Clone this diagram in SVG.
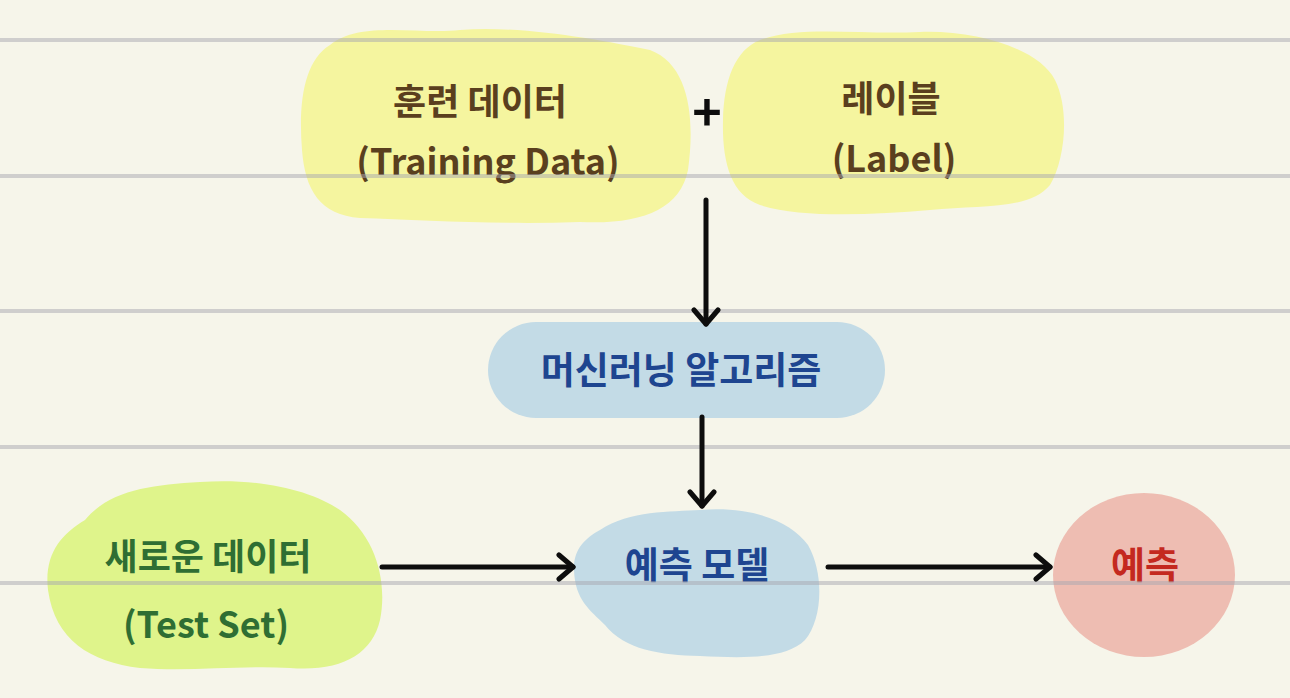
<svg xmlns="http://www.w3.org/2000/svg" width="1290" height="698" viewBox="0 0 1290 698">
<defs>
<style>
.rule{stroke:#a8a8b0;stroke-opacity:0.5;stroke-width:4}
.conn{stroke:#0d0d0d;stroke-width:5;stroke-linecap:round;fill:none}
.t{font-family:"Noto Sans CJK KR","Noto Sans",sans-serif;font-weight:700;text-anchor:middle}
.brown{fill:#5a3f1e}
.blue{fill:#1e4590}
.green{fill:#2f6e33}
.red{fill:#c4291f}
</style>
<marker id="arr" viewBox="0 0 20 30" refX="17" refY="15" markerWidth="20" markerHeight="30" markerUnits="userSpaceOnUse" orient="auto">
<path d="M3,3 L17,15 L3,27" fill="none" stroke="#0d0d0d" stroke-width="5" stroke-linecap="round" stroke-linejoin="round"/>
</marker>
</defs>
<rect width="1290" height="698" fill="#f6f5ea"/>
<g id="training">
<path d="M330,45 C360,20 420,35 460,30 C520,25 600,40 650,50 C690,65 695,120 688,170 C680,210 640,225 580,222 C500,225 420,220 360,218 C320,215 305,190 302,150 C298,100 305,60 330,45 Z" fill="#f5f59f"/>
<text class="t brown" x="480" y="115" font-size="36">훈련 데이터</text>
<text class="t brown" x="488" y="175" font-size="36">(Training Data)</text>
</g>
<g id="plus">
<text class="t" x="707" y="131" font-size="50" font-weight="400" fill="#0d0d0d">+</text>
</g>
<g id="label">
<path d="M760,40 C800,25 860,35 920,32 C980,30 1040,50 1055,80 C1070,110 1065,160 1050,185 C1030,210 980,205 930,210 C870,215 800,218 760,205 C730,195 722,160 723,120 C724,80 735,50 760,40 Z" fill="#f5f59f"/>
<text class="t brown" x="891" y="112" font-size="36">레이블</text>
<text class="t brown" x="894" y="172" font-size="36">(Label)</text>
</g>
<g id="algorithm">
<rect x="488" y="322" width="397" height="96" rx="48" fill="#c3dbe6"/>
<text class="t blue" x="681" y="384" font-size="37">머신러닝  알고리즘</text>
</g>
<g id="testset">
<path d="M85,520 C110,490 150,485 200,482 C260,478 310,490 340,510 C375,535 388,580 380,620 C372,655 340,672 290,668 C240,665 190,672 140,668 C90,662 55,640 48,590 C44,555 60,535 85,520 Z" fill="#dff48b"/>
<text class="t green" x="208" y="570" font-size="36">새로운 데이터</text>
<text class="t green" x="206" y="638" font-size="36">(Test Set)</text>
</g>
<g id="model">
<path d="M600,530 C630,510 670,512 700,510 C750,506 790,520 808,545 C825,575 822,620 805,640 C785,660 740,658 700,656 C660,655 625,650 605,625 C590,610 575,600 574,570 C573,550 585,538 600,530 Z" fill="#c3dbe6"/>
<text class="t blue" x="697" y="579" font-size="37">예측 모델</text>
</g>
<g id="prediction">
<ellipse cx="1144" cy="575" rx="91" ry="82" fill="#eebdb2"/>
<text class="t red" x="1145" y="579" font-size="37">예측</text>
</g>
<g id="rules">
<line class="rule" x1="0" y1="40" x2="1290" y2="40"/>
<line class="rule" x1="0" y1="176" x2="1290" y2="176"/>
<line class="rule" x1="0" y1="311" x2="1290" y2="311"/>
<line class="rule" x1="0" y1="447" x2="1290" y2="447"/>
<line class="rule" x1="0" y1="583" x2="1290" y2="583"/>
</g>
<g id="connectors">
<line class="conn" x1="706" y1="200" x2="706" y2="324" marker-end="url(#arr)"/>
<line class="conn" x1="702" y1="417" x2="702" y2="506" marker-end="url(#arr)"/>
<line class="conn" x1="382" y1="567" x2="573" y2="567" marker-end="url(#arr)"/>
<line class="conn" x1="828" y1="567" x2="1050" y2="567" marker-end="url(#arr)"/>
</g>
</svg>
